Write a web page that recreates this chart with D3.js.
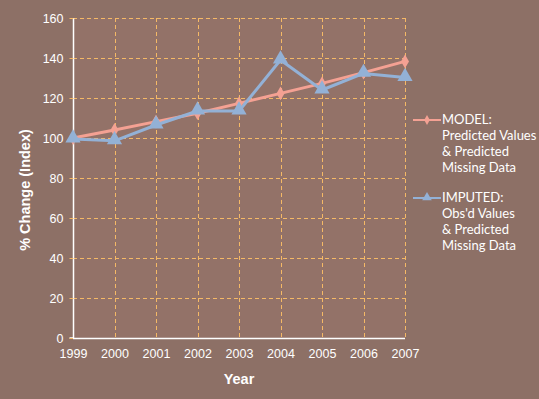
<!DOCTYPE html>
<html><head><meta charset="utf-8">
<script src="https://cdn.jsdelivr.net/npm/d3@7"></script>
<style>
html,body{margin:0;padding:0;background:#8D7066;}
svg{display:block;}
</style></head>
<body>
<svg id="chart" width="539" height="399"></svg>
<script>
const years = [1999, 2000, 2001, 2002, 2003, 2004, 2005, 2006, 2007];
const modelValues = [100, 104, 108.2, 112.4, 117.3, 122.3, 127.3, 132.7, 138.3];
const imputedValues = [99.5, 98.6, 106.5, 113.5, 113.5, 139, 124, 132.3, 130.2];
const yTicks = [0, 20, 40, 60, 80, 100, 120, 140, 160];
const seriesNames = [["MODEL:", "Predicted Values", "& Predicted", "Missing Data"],
                     ["IMPUTED:", "Obs'd Values", "& Predicted", "Missing Data"]];
const colors = ["#F4A193", "#93B1D6"];

(function () {
const FONT = "'Liberation Sans'";
const svg = d3.select("#chart");
const pL = 73, pR = 405, pT = 18, pB = 338;
const x = d3.scalePoint().domain(years).range([pL, pR]);
const y = d3.scaleLinear().domain([0, 160]).range([pB, pT]);

svg.append("rect").attr("x", 0).attr("y", 0).attr("width", 539).attr("height", 399).attr("fill", "#8D7066");
svg.append("rect").attr("x", pL).attr("y", pT).attr("width", pR - pL).attr("height", pB - pT).attr("fill", "#937268");

// gridlines
const grid = svg.append("g").attr("stroke", "#F5B966").attr("stroke-width", 1).attr("stroke-dasharray", "4,3");
yTicks.filter(d => d > 0).forEach(t => {
  grid.append("line").attr("x1", pL).attr("x2", pR).attr("y1", Math.round(y(t)) + 0.5).attr("y2", Math.round(y(t)) + 0.5);
});
years.slice(1).forEach(yr => {
  grid.append("line").attr("y1", pT).attr("y2", pB).attr("x1", Math.round(x(yr)) + 0.5).attr("x2", Math.round(x(yr)) + 0.5);
});

// axes
const yAxis = svg.append("g").attr("transform", `translate(${pL + 0.5},0)`)
  .call(d3.axisLeft(y).tickValues(yTicks).tickSize(4).tickPadding(6));
const xAxis = svg.append("g").attr("transform", `translate(0,${pB + 0.5})`)
  .call(d3.axisBottom(x).tickSize(0).tickPadding(11));
[yAxis, xAxis].forEach(a => {
  a.attr("font-family", null).attr("font-size", null);
  a.selectAll("path.domain").attr("stroke", "#FFFFFF").attr("stroke-width", 1.5);
  a.selectAll(".tick line").attr("stroke", "#F5B966");
  a.selectAll("text").attr("fill", "#FFFFFF").style("font-family", FONT).style("font-size", "12.5px");
});
yAxis.select("path.domain").attr("d", `M-4,${pB}H0V${pT}`);
xAxis.select("path.domain").attr("d", `M${pL},0H${pR}`);

// axis titles
svg.append("text").attr("x", 239).attr("y", 384).attr("text-anchor", "middle")
  .attr("fill", "#FFFFFF").style("font-family", FONT)
  .style("font-size", "14.5px").style("font-weight", "bold").text("Year");
svg.append("text").attr("transform", "translate(30,190) rotate(-90)").attr("text-anchor", "middle")
  .attr("fill", "#FFFFFF").style("font-family", FONT)
  .style("font-size", "14.5px").style("font-weight", "bold").text("% Change (Index)");

// series
const line = d3.line().x((d, i) => x(years[i])).y(d => y(d));
const data = [modelValues, imputedValues];
const symbols = [d3.symbolDiamond, d3.symbolTriangle];
const sizes = [55, 100];
data.forEach((vals, si) => {
  svg.append("path").datum(vals).attr("d", line).attr("fill", "none")
    .attr("stroke", colors[si]).attr("stroke-width", 3).attr("stroke-linejoin", "round");
});
data.forEach((vals, si) => {
  svg.append("g").selectAll("path").data(vals).join("path")
    .attr("d", d3.symbol().type(symbols[si]).size(sizes[si]))
    .attr("transform", (d, i) => `translate(${x(years[i])},${y(d) + (si === 1 ? -1 : 0)})`)
    .attr("fill", colors[si]);
});

// legend
const legendY = [124, 202];
seriesNames.forEach((lines, si) => {
  const g = svg.append("g");
  const ly = legendY[si] - 4;
  g.append("line").attr("x1", 413).attr("x2", 441).attr("y1", ly).attr("y2", ly)
    .attr("stroke", colors[si]).attr("stroke-width", 2);
  g.append("path").attr("d", d3.symbol().type(symbols[si]).size(si === 0 ? 28 : 40))
    .attr("transform", `translate(427,${ly + (si === 1 ? -0.5 : 0)})`).attr("fill", colors[si]);
  lines.forEach((t, li) => {
    g.append("text").attr("x", 442).attr("y", legendY[si] + li * 16)
      .attr("fill", "#FFFFFF").style("font-family", "Lato, 'Open Sans', sans-serif")
      .style("font-size", "13px").text(t);
  });
});
})();
</script>
</body></html>
